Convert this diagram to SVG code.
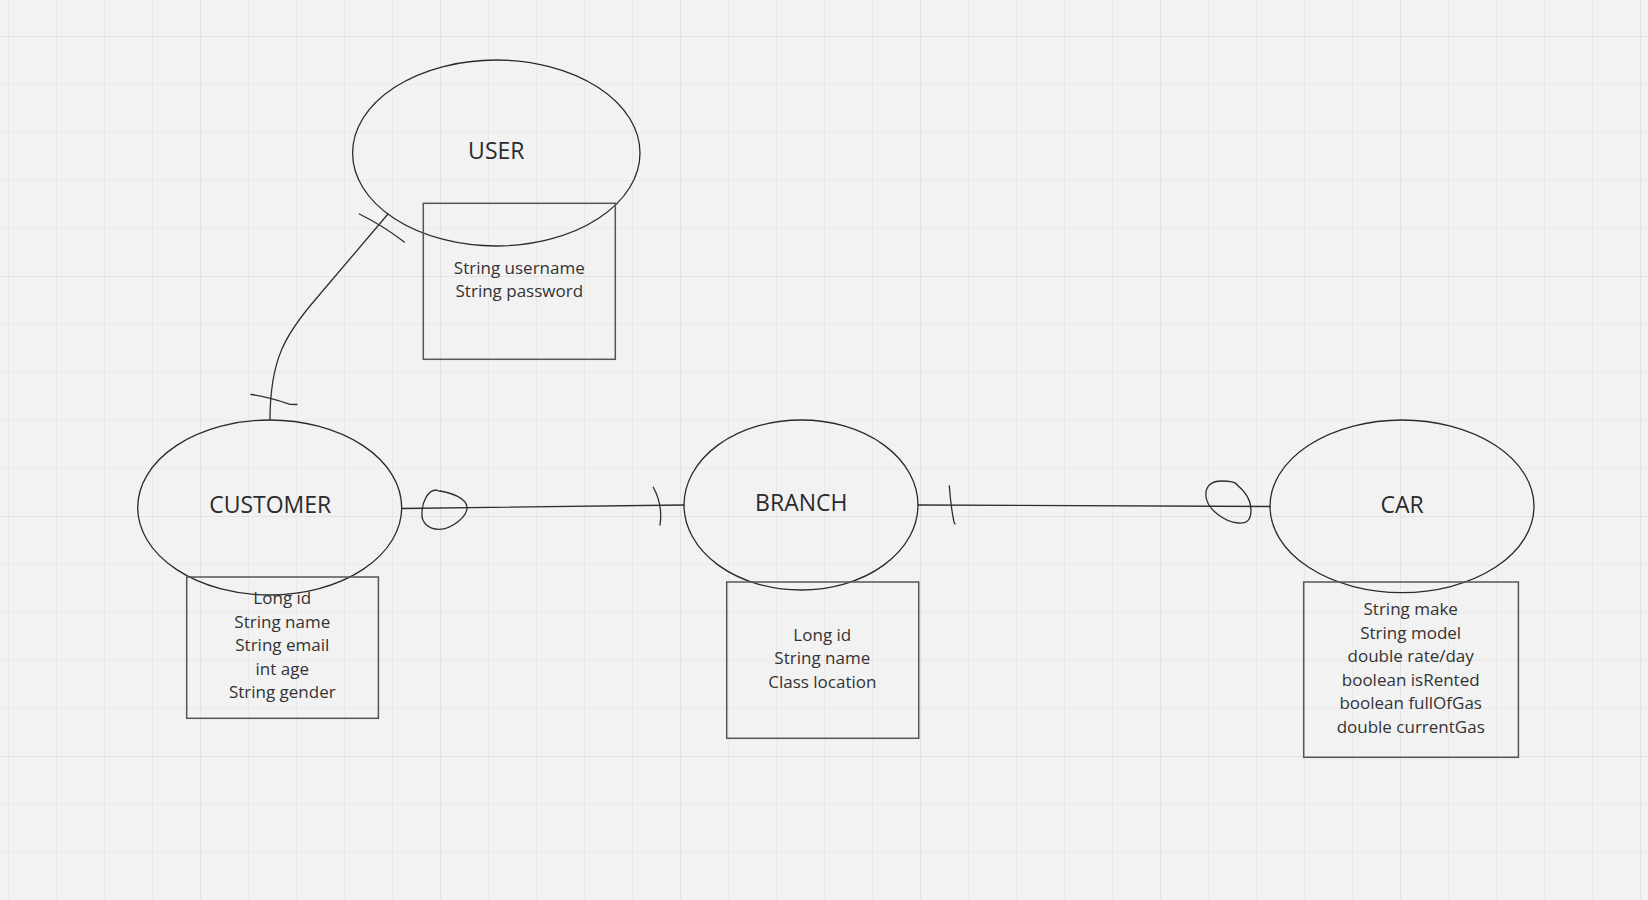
<svg xmlns="http://www.w3.org/2000/svg" width="1648" height="900" viewBox="0 0 1648 900">
  <defs>
    <pattern id="grid" patternUnits="userSpaceOnUse" x="200" y="36" width="240" height="240">
      <path d="M48.5,0V240M96.5,0V240M144.5,0V240M192.5,0V240M0,48.5H240M0,96.5H240M0,144.5H240M0,192.5H240" stroke="#e9e9e9" stroke-width="1" fill="none"/>
      <path d="M0.5,0V240M0,0.5H240" stroke="#e3e3e3" stroke-width="1.2" fill="none"/>
    </pattern>
    <style>
      .ent { fill: none; stroke: #2a2a2a; stroke-width: 1.3; }
      .box { fill: none; stroke: #555; stroke-width: 1.5; }
      .title { font-family: "Open Sans", "Liberation Sans", sans-serif; font-size: 23px; fill: #2b2b2b; text-anchor: middle; }
      .attr { font-family: "Open Sans", "Liberation Sans", sans-serif; font-size: 17px; fill: #333; text-anchor: middle; }
      .conn path { fill: none; stroke: #2e2e2e; stroke-width: 1.3; stroke-linecap: round; }
    </style>
  </defs>
  <rect width="1648" height="900" fill="#f2f2f2"/>
  <rect width="1648" height="900" fill="url(#grid)"/>

  <g id="connectors" class="conn">
    <!-- CUSTOMER - USER -->
    <path d="M270,420 C270,360 285,335 315,300 L388,214"/>
    <path d="M251,394.5 C262,396 280,401 290,404.3 L297,404.5"/>
    <path d="M359.3,214 Q382,225 404.3,242"/>
    <!-- CUSTOMER - BRANCH -->
    <path d="M402,508.5 L684,505"/>
    <path d="M440,491 C452,493 466,498 467,507 C468,516 452,529 439,529.3 C428,529 421,522 422,513 C422,502 428,490 436,490 L440,491.5"/>
    <path d="M653.3,487.3 Q663,505 660,525"/>
    <!-- BRANCH - CAR -->
    <path d="M918,505 L1270,506.5"/>
    <path d="M949.3,486 Q951,508 954,522 L955,524"/>
    <path d="M1236,484 C1246,492 1251,500 1251,510 C1251,520 1247,524 1238,523 C1225,522 1208,510 1206,497 C1205,487 1210,481 1222,481 C1230,481 1235,482 1237,484.5"/>
  </g>

  <g id="user">
    <ellipse class="ent" cx="496.3" cy="153" rx="143.7" ry="93"/>
    <text class="title" x="496.3" y="159">USER</text>
    <rect class="box" x="423.3" y="203.3" width="192" height="156"/>
    <text class="attr" x="519.3" y="274">String username<tspan x="519.3" dy="23.3">String password</tspan></text>
  </g>

  <g id="customer">
    <ellipse class="ent" cx="269.7" cy="507.5" rx="132" ry="87.5"/>
    <text class="title" x="270.2" y="513.3">CUSTOMER</text>
    <rect class="box" x="186.7" y="577" width="191.7" height="141.3"/>
    <text class="attr" x="282.3" y="604">Long id<tspan x="282.3" dy="23.6">String name</tspan><tspan x="282.3" dy="23.6">String email</tspan><tspan x="282.3" dy="23.6">int age</tspan><tspan x="282.3" dy="23.6">String gender</tspan></text>
  </g>

  <g id="branch">
    <ellipse class="ent" cx="801" cy="505" rx="117" ry="85"/>
    <text class="title" x="801.3" y="510.7">BRANCH</text>
    <rect class="box" x="726.7" y="582" width="192" height="156.3"/>
    <text class="attr" x="822.3" y="640.7">Long id<tspan x="822.3" dy="23.4">String name</tspan><tspan x="822.3" dy="23.4">Class location</tspan></text>
  </g>

  <g id="car">
    <ellipse class="ent" cx="1402" cy="506.3" rx="132" ry="86.3"/>
    <text class="title" x="1402.2" y="512.7">CAR</text>
    <rect class="box" x="1303.7" y="582" width="214.7" height="175.3"/>
    <text class="attr" x="1410.7" y="615">String make<tspan x="1410.7" dy="23.5">String model</tspan><tspan x="1410.7" dy="23.5">double rate/day</tspan><tspan x="1410.7" dy="23.5">boolean isRented</tspan><tspan x="1410.7" dy="23.5">boolean fullOfGas</tspan><tspan x="1410.7" dy="23.5">double currentGas</tspan></text>
  </g>
</svg>
